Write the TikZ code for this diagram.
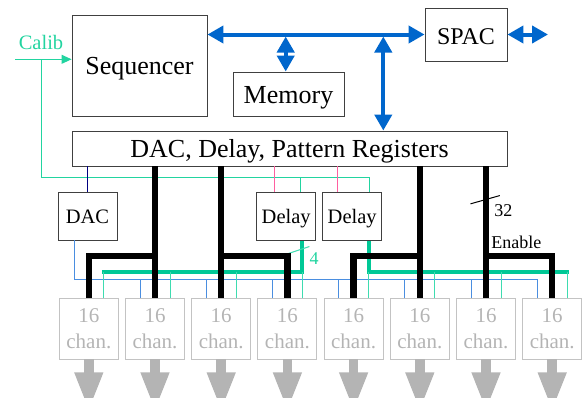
\documentclass[tikz,border=0pt]{standalone}
\usepackage{fontspec}
\setmainfont{Liberation Serif}
\usepackage{xcolor}
\usetikzlibrary{arrows.meta, calc}

\definecolor{busblue}{HTML}{0066CC}
\definecolor{calibgreen}{HTML}{22D4A0}
\definecolor{thickgreen}{HTML}{00C896}
\definecolor{dropgreen}{HTML}{3EDCB0}
\definecolor{chanblue}{HTML}{4A8EE0}
\definecolor{regpink}{HTML}{FF5FA0}
\definecolor{chgray}{HTML}{B4B4B4}

\begin{document}
\begin{tikzpicture}[x=1pt, y=-1pt,
  blk/.style={draw=black!75, line width=0.9pt, fill=white, inner sep=0pt},
  bigtxt/.style={font=\fontsize{26}{28}\selectfont, text height=19.5pt, text depth=1.5pt},
  midtxt/.style={font=\fontsize{24}{26}\selectfont, text height=20pt, text depth=1pt},
  smalltxt/.style={font=\fontsize{20.5}{22}\selectfont, text height=15.5pt, text depth=1.1pt},
  chanbox/.style={draw=chgray!80, line width=0.9pt, text=chgray, inner sep=0pt, align=center,
    minimum width=59pt, minimum height=61pt, font=\fontsize{21}{26.5}\selectfont},
  busarrow/.style={busblue, line width=4pt, {Triangle[length=16pt,width=17pt]}-{Triangle[length=16pt,width=17pt]}},
  ctl/.style={line width=6.5pt, black},
  gbus/.style={line width=4pt, thickgreen},
  gdrop/.style={line width=1pt, dropgreen},
  calibline/.style={line width=1pt, calibgreen},
  chanline/.style={line width=1pt, chanblue},
  lbl/.style={font=\fontsize{18}{18}\selectfont, inner sep=0pt}]
  \clip (0,0) rectangle (583,397);

  % upper blocks
  \node[blk, bigtxt, minimum width=135pt, minimum height=101pt] (seq) at (139.5,65.5) {Sequencer};
  \node[blk, bigtxt, minimum width=111pt, minimum height=44pt] (mem) at (288.5,94) {Memory};
  \node[blk, midtxt, minimum width=82pt, minimum height=53pt] (spac) at (466,34.5) {SPAC};
  \node[blk, bigtxt, minimum width=435pt, minimum height=35pt] (reg) at (289.5,148.5) {DAC, Delay, Pattern Registers};

  % lower blocks
  \node[blk, smalltxt, minimum width=59pt, minimum height=48pt] (dac) at (87.5,216) {DAC};
  \node[blk, smalltxt, minimum width=59pt, minimum height=48pt] (dly1) at (286.2,216.3) {Delay};
  \node[blk, smalltxt, minimum width=59pt, minimum height=48pt] (dly2) at (352.2,216.3) {Delay};
  \foreach \i in {1,...,8} {
    \node[chanbox] (ch\i) at ({88.8+66.2*(\i-1)},328.5) {16\\chan.};
    \coordinate (g\i) at ($(ch\i.north)+(15,0)$);
    \draw[chgray, line width=9.5pt, -{Triangle[length=39pt,width=26pt]}] (ch\i.south) -- ++(0,52);
  }

  % blue bus
  \coordinate (mtap) at (285.7,36.5);
  \coordinate (rtap) at (383.3,36.5);
  \coordinate (ext) at (548,34.5);
  \draw[busarrow] (seq.east |- spac.west) -- (spac.west);
  \draw[busarrow] (spac.east) -- (spac.east -| ext);
  \draw[busarrow] (mtap) -- (mtap |- mem.north);
  \draw[busarrow] (rtap) -- (rtap |- reg.north);

  % calibration
  \node[font=\fontsize{20.5}{22}\selectfont, text=calibgreen, inner sep=0pt] (calib) at (41,42.3) {Calib};
  \coordinate (cin) at (15,59.3);
  \coordinate (cbr) at (41.3,59.3);
  \draw[calibline, -{Triangle[length=10pt,width=9pt]}] (cin) -- (cin -| seq.west);
  \draw[calibline] (cbr) |- ($(dly2.north)+(17,-14)$) -- ($(dly2.north)+(17,0)$);
  \draw[calibline] ($(dly1.north)+(14,-14)$) -- ($(dly1.north)+(14,0)$);

  % register outputs
  \coordinate (pk1) at ($(dly1.north)+(-12,0)$);
  \coordinate (pk2) at ($(dly2.north)+(-14.5,0)$);
  \draw[regpink, line width=1pt] (pk1 |- reg.south) -- (pk1);
  \draw[regpink, line width=1pt] (pk2 |- reg.south) -- (pk2);
  \draw[blue!50!black, line width=1pt] (dac.north |- reg.south) -- (dac.north);

  % DAC level to channels
  \draw[chanline] ($(dac.south)+(-13,0)$) |- ($(ch8.north)+(-15,-18)$) -- ($(ch8.north)+(-15,0)$);
  \foreach \i in {2,...,7}
    \draw[chanline] ($(ch\i.north)+(-15,-18)$) -- ++(0,18);

  % delayed calibration to channels
  \draw[gbus] ($(g1)+(-2,-26)$) -- ($(g4)+(0,-26)$) -- (g4 |- dly1.south);
  \draw[gbus] (g5 |- dly2.south) -- ($(g5)+(0,-26)$) -- ($(g8)+(2,-26)$);
  \foreach \i in {1,...,8}
    \draw[gdrop] ($(g\i)+(0,-26)$) -- (g\i);
  \draw[gdrop] ($(g4)+(-14,-44)$) -- ++(21,-7);
  \node[lbl, text=calibgreen] (nd) at (314,259) {4};

  % enables
  \coordinate (enl) at (0,256);
  \draw[ctl] (ch2.north |- reg.south) -- (ch2.north);
  \draw[ctl] (ch2.north |- enl) -| (ch1.north);
  \draw[ctl] (ch3.north |- reg.south) -- (ch3.north);
  \draw[ctl] (ch3.north |- enl) -| (ch4.north);
  \draw[ctl] (ch6.north |- reg.south) -- (ch6.north);
  \draw[ctl] (ch6.north |- enl) -| (ch5.north);
  \draw[ctl] (ch7.north |- reg.south) -- (ch7.north);
  \draw[ctl] (ch7.north |- enl) -| (ch8.north);
  \draw[line width=1pt] ($(ch7.north)+(-15.5,-93.7)$) -- ++(29.3,-8.3);
  \node[lbl] (nbits) at (503.3,210.8) {32};
  \node[lbl] (enable) at (516.3,242) {Enable};
\end{tikzpicture}
\end{document}
